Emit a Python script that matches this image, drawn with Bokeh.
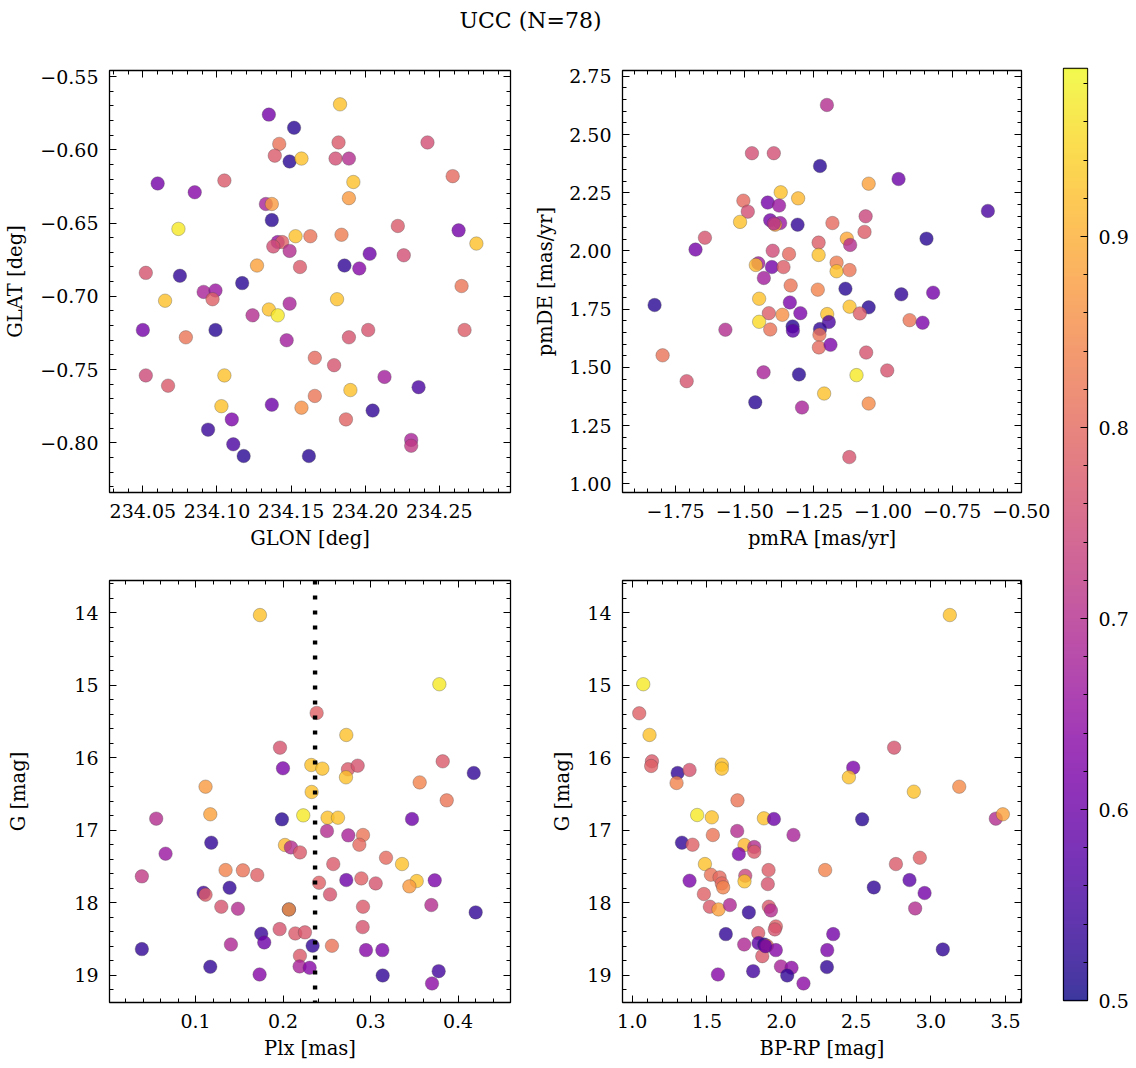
import numpy as np
from bokeh.plotting import figure
from bokeh.models import (Range1d, LinearAxis, SingleIntervalTicker, CustomJSTickFormatter,
                          Span, LinearColorMapper, ColumnDataSource, Label)
from bokeh.layouts import row, column
from bokeh.palettes import Plasma256
from bokeh.transform import linear_cmap
from bokeh.embed import file_html
from bokeh.resources import INLINE

# ---------------- data ----------------
TITLE = "UCC (N=78)"

glon = [234.135, 234.152, 234.183, 234.142, 234.182, 234.242, 234.139, 234.149, 234.157, 234.180,
        234.189, 234.192, 234.259, 234.060, 234.085, 234.105, 234.189, 234.133, 234.137, 234.137,
        234.074, 234.222, 234.263, 234.275, 234.153, 234.163, 234.184, 234.141, 234.144, 234.138,
        234.149, 234.203, 234.226, 234.127, 234.156, 234.186, 234.196, 234.052, 234.075, 234.117,
        234.265, 234.091, 234.099, 234.097, 234.065, 234.181, 234.149, 234.135, 234.141, 234.124,
        234.050, 234.099, 234.079, 234.189, 234.202, 234.267, 234.147, 234.166, 234.179, 234.052,
        234.067, 234.105, 234.213, 234.236, 234.190, 234.166, 234.103, 234.137, 234.157, 234.205,
        234.187, 234.110, 234.094, 234.111, 234.118, 234.162, 234.231, 234.231]
glat = [-0.576, -0.585, -0.569, -0.596, -0.595, -0.595, -0.604, -0.608, -0.606, -0.606,
        -0.606, -0.622, -0.618, -0.623, -0.629, -0.621, -0.633, -0.637, -0.637, -0.648,
        -0.654, -0.652, -0.655, -0.664, -0.659, -0.659, -0.658, -0.663, -0.663, -0.666,
        -0.669, -0.671, -0.672, -0.679, -0.680, -0.679, -0.681, -0.684, -0.686, -0.691,
        -0.693, -0.697, -0.696, -0.702, -0.703, -0.702, -0.705, -0.709, -0.713, -0.713,
        -0.723, -0.723, -0.728, -0.728, -0.723, -0.723, -0.730, -0.742, -0.747, -0.754,
        -0.761, -0.754, -0.755, -0.762, -0.764, -0.768, -0.775, -0.774, -0.776, -0.778,
        -0.784, -0.784, -0.791, -0.801, -0.809, -0.809, -0.798, -0.802]
prob_pos = [0.61, 0.52, 0.925, 0.815, 0.775, 0.755, 0.775, 0.52, 0.925, 0.755,
            0.70, 0.925, 0.80, 0.61, 0.63, 0.775, 0.87, 0.68, 0.87, 0.52,
            0.97, 0.775, 0.61, 0.925, 0.925, 0.815, 0.83, 0.65, 0.785, 0.755,
            0.70, 0.60, 0.755, 0.88, 0.775, 0.53, 0.63, 0.765, 0.53, 0.52,
            0.82, 0.68, 0.66, 0.785, 0.925, 0.925, 0.68, 0.925, 0.97, 0.70,
            0.61, 0.52, 0.82, 0.765, 0.765, 0.78, 0.67, 0.80, 0.765, 0.745,
            0.775, 0.925, 0.67, 0.56, 0.925, 0.82, 0.925, 0.60, 0.86, 0.53,
            0.79, 0.62, 0.54, 0.56, 0.52, 0.52, 0.68, 0.72]

pmra = [-1.203, -1.474, -1.395, -1.228, -1.052, -0.944, -0.621, -1.370, -1.307, -1.505,
        -1.417, -1.376, -1.489, -1.517, -1.408, -1.372, -1.390, -1.309, -1.183, -1.063,
        -1.067, -1.131, -1.119, -0.843, -1.644, -1.678, -1.233, -1.399, -1.340, -1.233,
        -1.451, -1.460, -1.402, -1.360, -1.168, -1.168, -1.121, -1.431, -1.334, -1.236,
        -1.136, -0.934, -0.819, -1.826, -1.448, -1.337, -1.121, -1.052, -1.413, -1.364,
        -1.299, -1.202, -1.196, -1.084, -0.904, -0.857, -1.448, -1.408, -1.327, -1.326,
        -1.570, -1.228, -1.230, -1.232, -1.190, -1.061, -1.797, -0.985, -1.710, -1.432,
        -1.304, -1.096, -1.213, -1.052, -1.462, -1.293, -1.122, -1.395]
pmde = [2.627, 2.420, 2.420, 2.365, 2.289, 2.309, 2.172, 2.252, 2.226, 2.216,
        2.208, 2.195, 2.169, 2.125, 2.132, 2.120, 2.113, 2.113, 2.120, 2.149,
        2.082, 2.053, 2.026, 2.053, 2.057, 2.006, 2.036, 2.001, 1.987, 1.983,
        1.947, 1.940, 1.931, 1.931, 1.950, 1.913, 1.918, 1.884, 1.852, 1.834,
        1.838, 1.814, 1.821, 1.768, 1.795, 1.779, 1.761, 1.758, 1.733, 1.726,
        1.733, 1.729, 1.695, 1.732, 1.703, 1.692, 1.696, 1.663, 1.676, 1.658,
        1.662, 1.665, 1.640, 1.586, 1.597, 1.564, 1.552, 1.487, 1.441, 1.479,
        1.470, 1.467, 1.388, 1.345, 1.350, 1.328, 1.115, 2.118]
prob_pm = [0.70, 0.755, 0.755, 0.52, 0.88, 0.60, 0.56, 0.925, 0.91, 0.80,
           0.61, 0.66, 0.755, 0.925, 0.61, 0.66, 0.88, 0.53, 0.80, 0.74,
           0.78, 0.89, 0.70, 0.52, 0.765, 0.61, 0.78, 0.75, 0.80, 0.925,
           0.67, 0.91, 0.61, 0.78, 0.83, 0.925, 0.82, 0.67, 0.82, 0.84,
           0.52, 0.53, 0.61, 0.52, 0.925, 0.62, 0.925, 0.52, 0.78, 0.86,
           0.62, 0.925, 0.56, 0.78, 0.82, 0.62, 0.95, 0.815, 0.52, 0.58,
           0.70, 0.53, 0.815, 0.80, 0.62, 0.765, 0.815, 0.765, 0.765, 0.68,
           0.52, 0.97, 0.925, 0.85, 0.52, 0.68, 0.765, 0.70]

plx = [0.1736, 0.3787, 0.2384, 0.2723, 0.1965, 0.1999, 0.2323, 0.2449, 0.2742, 0.2853,
       0.2719, 0.3825, 0.4180, 0.3562, 0.3871, 0.1114, 0.2327, 0.1168, 0.0550, 0.1987,
       0.2231, 0.2509, 0.2628, 0.3474, 0.2502, 0.2746, 0.2914, 0.2872, 0.1179, 0.0657,
       0.2022, 0.2090, 0.2193, 0.2574, 0.3177, 0.3360, 0.0386, 0.1343, 0.1541, 0.1705,
       0.2723, 0.2895, 0.3059, 0.3528, 0.3444, 0.3734, 0.2411, 0.2537, 0.1389, 0.1091,
       0.1114, 0.1294, 0.1484, 0.2067, 0.2067, 0.2914, 0.3695, 0.4202, 0.1961, 0.2140,
       0.1751, 0.1785, 0.1404, 0.2338, 0.2559, 0.2910, 0.2948, 0.3135, 0.0386, 0.2193,
       0.2189, 0.2304, 0.1168, 0.1732, 0.3139, 0.3779, 0.3703, 0.2250]
g_plx = [14.03, 14.985, 15.381, 15.685, 15.86, 16.145, 16.10, 16.15, 16.159, 16.109,
         16.27, 16.049, 16.21, 16.34, 16.588, 16.399, 16.472, 16.78, 16.84, 16.85,
         16.795, 16.827, 16.827, 16.845, 17.011, 17.071, 17.066, 17.20, 17.172, 17.324,
         17.204, 17.237, 17.306, 17.467, 17.38, 17.467, 17.637, 17.55, 17.554, 17.619,
         17.688, 17.665, 17.734, 17.702, 17.775, 17.692, 17.725, 17.886, 17.794, 17.863,
         17.89, 18.056, 18.084, 18.093, 18.093, 18.056, 18.033, 18.134, 18.365, 18.425,
         18.429, 18.549, 18.577, 18.595, 18.595, 18.337, 18.655, 18.655, 18.641, 18.733,
         18.88, 18.899, 18.885, 18.991, 19.005, 18.945, 19.115, 18.41]
prob_plx = [0.925, 0.97, 0.785, 0.925, 0.765, 0.62, 0.925, 0.925, 0.775, 0.765,
            0.925, 0.775, 0.53, 0.84, 0.82, 0.87, 0.925, 0.88, 0.70, 0.52,
            0.97, 0.925, 0.925, 0.60, 0.70, 0.68, 0.82, 0.80, 0.53, 0.66,
            0.91, 0.70, 0.775, 0.775, 0.80, 0.925, 0.72, 0.84, 0.815, 0.785,
            0.60, 0.785, 0.765, 0.925, 0.87, 0.62, 0.785, 0.765, 0.53, 0.55,
            0.78, 0.765, 0.70, 0.52, 0.87, 0.775, 0.70, 0.53, 0.765, 0.775,
            0.54, 0.60, 0.69, 0.53, 0.815, 0.765, 0.63, 0.62, 0.53, 0.775,
            0.68, 0.63, 0.53, 0.63, 0.53, 0.55, 0.64, 0.77]
plx_line = 0.2366

bprp = [3.127, 1.074, 1.047, 1.116, 1.132, 1.127, 2.754, 1.304, 1.384, 1.297,
        1.600, 1.600, 2.480, 2.451, 1.705, 2.886, 3.190, 1.435, 1.533, 1.882,
        1.949, 2.540, 3.435, 3.482, 1.703, 2.080, 1.540, 1.333, 1.404, 1.752,
        1.817, 1.817, 1.714, 2.926, 2.766, 1.487, 1.527, 1.585, 1.600, 1.609,
        1.384, 1.757, 1.752, 1.913, 1.908, 2.292, 2.618, 2.857, 2.958, 2.895,
        1.480, 1.520, 1.578, 1.654, 1.781, 1.915, 1.929, 1.962, 1.955, 1.627,
        1.844, 1.846, 1.884, 1.902, 1.750, 1.962, 1.871, 2.346, 2.306, 3.080,
        1.574, 1.810, 1.996, 2.067, 2.038, 2.304, 2.147, 1.892]
g_cmd = [14.03, 14.985, 15.386, 15.685, 16.049, 16.113, 15.86, 16.21, 16.168, 16.348,
         16.095, 16.15, 16.136, 16.27, 16.588, 16.468, 16.399, 16.79, 16.822, 16.836,
         16.845, 16.85, 16.84, 16.78, 17.011, 17.066, 17.066, 17.172, 17.20, 17.204,
         17.232, 17.297, 17.329, 17.38, 17.467, 17.467, 17.614, 17.651, 17.734, 17.789,
         17.697, 17.628, 17.706, 17.55, 17.743, 17.55, 17.789, 17.688, 17.867, 18.079,
         17.881, 18.056, 18.093, 18.033, 18.134, 18.056, 18.107, 18.328, 18.369, 18.434,
         18.42, 18.558, 18.577, 18.595, 18.577, 18.655, 18.738, 18.434, 18.655, 18.645,
         18.991, 18.945, 18.88, 18.899, 19.005, 18.889, 19.115, 18.60]
prob_cmd = [0.925, 0.97, 0.785, 0.925, 0.775, 0.785, 0.765, 0.53, 0.765, 0.84,
            0.925, 0.925, 0.62, 0.925, 0.82, 0.925, 0.85, 0.97, 0.925, 0.925,
            0.60, 0.52, 0.70, 0.88, 0.70, 0.68, 0.82, 0.53, 0.785, 0.91,
            0.70, 0.775, 0.62, 0.785, 0.775, 0.925, 0.815, 0.80, 0.80, 0.84,
            0.62, 0.74, 0.925, 0.78, 0.765, 0.84, 0.53, 0.58, 0.61, 0.70,
            0.785, 0.775, 0.88, 0.69, 0.53, 0.775, 0.70, 0.785, 0.765, 0.53,
            0.775, 0.58, 0.53, 0.815, 0.69, 0.63, 0.775, 0.61, 0.62, 0.53,
            0.63, 0.55, 0.68, 0.64, 0.53, 0.53, 0.64, 0.60]

PMIN, PMAX = 0.5, 0.988
CB_TICKS_STEP = 0.1

# ---------------- styling ----------------
FONT = "DejaVu Serif"
TICK_PX = "19px"
LABEL_PX = "19.5px"

mapper = LinearColorMapper(palette=Plasma256, low=PMIN, high=PMAX)


def fmt(dec):
    return CustomJSTickFormatter(code="return tick.toFixed(%d).replace('-', '\\u2212');" % dec)


def blank():
    return CustomJSTickFormatter(code="return '';")


def style_axis(ax, labelled):
    ax.axis_line_color = None
    ax.major_tick_in = 7
    ax.major_tick_out = 0
    ax.minor_tick_in = 4
    ax.minor_tick_out = 0
    ax.major_tick_line_color = "black"
    ax.minor_tick_line_color = "black"
    ax.major_tick_line_width = 1
    ax.minor_tick_line_width = 1
    ax.major_label_text_font = FONT
    ax.major_label_text_font_size = TICK_PX
    ax.major_label_text_color = "black"
    ax.axis_label_text_font = FONT
    ax.axis_label_text_font_size = LABEL_PX
    ax.axis_label_text_font_style = "normal"
    ax.axis_label_text_color = "black"
    if not labelled:
        ax.major_label_standoff = 0


def panel(xs, ys, cs, xr, yr, xstep, ystep, xdec, ydec, xlab, ylab,
          bl, br, bt, bb, fw, fh, ylab_standoff):
    p = figure(frame_width=fw, frame_height=fh,
               x_range=Range1d(*xr), y_range=Range1d(*yr),
               x_axis_type=None, y_axis_type=None,
               output_backend="svg", toolbar_location=None,
               min_border_left=bl, min_border_right=br,
               min_border_top=bt, min_border_bottom=bb)
    p.outline_line_color = "black"
    p.outline_line_width = 1.3
    p.outline_line_alpha = 1.0
    p.background_fill_color = "white"
    p.border_fill_color = "white"
    xt = SingleIntervalTicker(interval=xstep, num_minor_ticks=5)
    yt = SingleIntervalTicker(interval=ystep, num_minor_ticks=5)

    ax = LinearAxis(ticker=xt, formatter=fmt(xdec), axis_label=xlab)
    style_axis(ax, True)
    ax.major_label_standoff = 11
    ax.axis_label_standoff = 6
    p.add_layout(ax, "below")

    ax = LinearAxis(ticker=xt, formatter=blank())
    style_axis(ax, False)
    p.add_layout(ax, "above")

    ax = LinearAxis(ticker=yt, formatter=fmt(ydec), axis_label=ylab)
    style_axis(ax, True)
    ax.major_label_standoff = 11
    ax.axis_label_standoff = ylab_standoff
    p.add_layout(ax, "left")

    ax = LinearAxis(ticker=yt, formatter=blank())
    style_axis(ax, False)
    p.add_layout(ax, "right")

    src = ColumnDataSource(dict(x=xs, y=ys, c=cs))
    p.scatter(x="x", y="y", source=src, size=13.5,
              fill_color=linear_cmap("c", Plasma256, PMIN, PMAX), fill_alpha=0.8,
              line_color="#4a4a4a", line_alpha=0.55, line_width=0.6)
    return p


FH = 422
tl = panel(glon, glat, prob_pos, (234.0275, 234.298), (-0.8339, -0.5459), 0.05, 0.05, 2, 2,
           "GLON [deg]", "GLAT [deg]", 109, 10, 8, 80, 401, FH, 10)
tr = panel(pmra, pmde, prob_pm, (-1.942, -0.4995), (0.963, 2.775), 0.25, 0.25, 2, 2,
           "pmRA [mas/yr]", "pmDE [mas/yr]", 102, 32, 8, 80, 399, FH, 9)
bl = panel(plx, g_plx, prob_plx, (0.0016, 0.46), (19.378, 13.553), 0.1, 1, 1, 0,
           "Plx [mas]", "G [mag]", 109, 10, 8, 62, 401, FH, 41)
br = panel(bprp, g_cmd, prob_cmd, (0.935, 3.607), (19.378, 13.553), 0.5, 1, 1, 0,
           "BP-RP [mag]", "G [mag]", 102, 32, 8, 62, 399, FH, 10)

bl.add_layout(Span(location=plx_line, dimension="height", line_color="black",
                   line_width=4.4, line_dash="4 11"))

# ---------------- colour bar ----------------
cb = figure(frame_width=24, frame_height=932, x_range=Range1d(0, 1), y_range=Range1d(PMIN, PMAX),
            x_axis_type=None, y_axis_type=None, output_backend="svg", toolbar_location=None,
            min_border_left=10, min_border_right=48, min_border_top=6, min_border_bottom=64)
cb.outline_line_color = "black"
cb.outline_line_width = 1.3
grad = np.linspace(PMIN, PMAX, 512).reshape(-1, 1)
cb.image(image=[grad], x=0, y=PMIN, dw=1, dh=PMAX - PMIN, color_mapper=mapper, global_alpha=0.8)
cax = LinearAxis(ticker=SingleIntervalTicker(interval=CB_TICKS_STEP, num_minor_ticks=5), formatter=fmt(1))
style_axis(cax, True)
cax.major_label_standoff = 11
cb.add_layout(cax, "right")

# ---------------- title ----------------
tf = figure(width=1130, height=62, x_range=Range1d(0, 1130), y_range=Range1d(0, 62),
            x_axis_type=None, y_axis_type=None, output_backend="svg", toolbar_location=None,
            min_border=0)
tf.outline_line_color = None
tf.add_layout(Label(x=530, y=42, text=TITLE, text_align="center", text_baseline="middle",
                    text_font=FONT, text_font_size="22px", text_color="black"))

layout = column(tf, row(column(row(tl, tr), row(bl, br)), cb))

open("out.html", "w").write(file_html(layout, INLINE))
